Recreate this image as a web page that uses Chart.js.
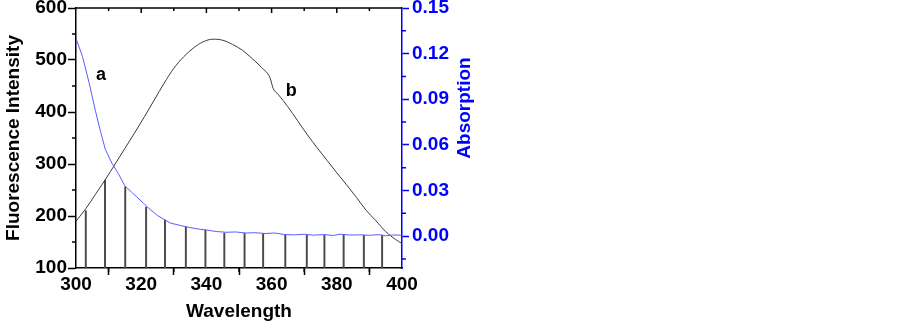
<!DOCTYPE html>
<html>
<head>
<meta charset="utf-8">
<title>Fluorescence / Absorption</title>
<script src="https://cdn.jsdelivr.net/npm/chart.js@4.4.1/dist/chart.umd.min.js"></script>
<style>
  html, body { margin: 0; padding: 0; background: #fff; }
  body { width: 903px; height: 327px; overflow: hidden; }
  #wrap { position: relative; width: 490px; height: 327px; }
</style>
</head>
<body>
<div id="wrap"><canvas id="grafica"></canvas></div>
<script>
// ── DATOS ─────────────────────────────────────────────
// curva b: fluorescencia (eje izquierdo)
const fluoWavelength = [300, 303, 306, 309, 312, 315, 318, 321, 324, 327, 330, 333, 336, 339, 342, 345,
                        348, 351, 354, 357, 359.5, 360.5, 362, 365, 368, 371, 374, 377, 380, 383, 386,
                        389, 392, 395, 398, 400];
const fluoIntensity  = [190, 214, 242, 270, 300, 330, 360, 391, 423, 455, 484, 506, 523, 535, 540, 538,
                        530, 519, 503, 485, 466, 445, 434, 410, 383, 356, 331, 307, 283, 260, 236,
                        211, 191, 170, 155, 147];

// curva a: absorción (eje derecho)
const absWavelength = [300, 302, 304, 306, 307.5, 309, 311, 313, 315, 317, 319, 321, 323, 325, 327, 329,
                       331, 334, 337, 340, 343, 346, 349, 352, 355, 358, 361, 364, 367, 370, 373, 376,
                       379, 381, 384, 387, 390, 393, 395, 397, 400];
const absValue      = [0.130, 0.118, 0.101, 0.082, 0.069, 0.057, 0.048, 0.041, 0.033, 0.029, 0.025, 0.021,
                       0.017, 0.0135, 0.011, 0.0085, 0.0075, 0.006, 0.0048, 0.004, 0.003, 0.0025, 0.0027,
                       0.0020, 0.0022, 0.0017, 0.0020, 0.0010, 0.0008, 0.0012, 0.0006, 0.0010, 0.0004,
                       0.0012, 0.0007, 0.0008, 0.0005, 0.0009, 0.0002, 0.0007, 0.0006];

// líneas verticales del área de solapamiento (eje izquierdo)
const hatchWavelength = [303.0, 308.9, 315.1, 321.5, 327.3, 333.7, 339.7, 345.5, 351.7, 357.4, 364.2,
                         370.8, 376.2, 382.1, 388.3, 393.9];
const hatchHeight     = [210, 269, 256, 217, 192, 179, 173, 167, 167, 166, 164, 163, 163, 163, 163, 163];

// etiquetas de curva
const curveLabels = ['a', 'b'];
const curveLabelX = [307.7, 366];
const curveLabelY = [471, 440];

const AZUL = '#0000ff';
const FUENTE = "'Liberation Sans', Arial, sans-serif";

// ── PLUGIN: ticks menores, eje superior, título derecho, etiquetas ──
const decoraciones = {
    id: 'decoraciones',
    afterDraw(chart) {
        const ctx = chart.ctx;
        const a = chart.chartArea;
        const x = chart.scales.x, y = chart.scales.y, y1 = chart.scales.y1;
        ctx.save();
        ctx.lineWidth = 1.5;

        // borde superior
        ctx.strokeStyle = '#000';
        ctx.beginPath();
        ctx.moveTo(a.left, a.top);
        ctx.lineTo(a.right, a.top);
        ctx.stroke();

        ctx.beginPath();
        for (let v = 310; v < 400; v += 10) {
            const px = x.getPixelForValue(v);
            const len = (v % 20 === 0) ? 5 : 3;
            // superior, hacia dentro
            ctx.moveTo(px, a.top);
            ctx.lineTo(px, a.top + len);
            // inferior, menores hacia fuera
            if (v % 20 !== 0) {
                ctx.moveTo(px, a.bottom);
                ctx.lineTo(px, a.bottom + 4);
            }
        }
        for (let v = 150; v < 600; v += 100) {
            const py = y.getPixelForValue(v);
            ctx.moveTo(a.left - 4, py);
            ctx.lineTo(a.left, py);
        }
        ctx.stroke();

        ctx.strokeStyle = AZUL;
        ctx.beginPath();
        [-0.015, 0.015, 0.045, 0.075, 0.105, 0.135].forEach(v => {
            const py = y1.getPixelForValue(v);
            ctx.moveTo(a.right, py);
            ctx.lineTo(a.right + 4, py);
        });
        ctx.stroke();

        // título del eje derecho (de abajo hacia arriba)
        ctx.fillStyle = AZUL;
        ctx.font = 'bold 19px ' + FUENTE;
        ctx.textAlign = 'center';
        ctx.textBaseline = 'middle';
        ctx.translate(y1.right - 25, a.top + 100);
        ctx.rotate(-Math.PI / 2);
        ctx.fillText('Absorption', 0, 0);
        ctx.restore();

        // etiquetas a / b
        ctx.save();
        ctx.fillStyle = '#000';
        ctx.font = 'bold 18px ' + FUENTE;
        ctx.textAlign = 'center';
        ctx.textBaseline = 'middle';
        curveLabels.forEach((t, i) => {
            ctx.fillText(t, x.getPixelForValue(curveLabelX[i]), y.getPixelForValue(curveLabelY[i]));
        });
        ctx.restore();
    }
};

function initGrafica() {
    if (typeof Chart === 'undefined') return setTimeout(initGrafica, 50);

    Chart.defaults.font.family = FUENTE;
    Chart.defaults.font.weight = 'bold';
    Chart.defaults.font.size = 19;
    Chart.defaults.color = '#000';

    const sinPadding = s => { s.paddingTop = 0; s.paddingBottom = 0; s.paddingLeft = 0; s.paddingRight = 0; };

    new Chart(document.getElementById('grafica'), {
        type: 'line',
        data: {
            datasets: [
                {
                    type: 'line',
                    label: 'a',
                    data: absWavelength.map((w, i) => ({ x: w, y: absValue[i] })),
                    yAxisID: 'y1',
                    borderColor: '#5b5bff',
                    borderWidth: 1,
                    pointRadius: 0,
                    tension: 0,
                    order: 1
                },
                {
                    type: 'line',
                    label: 'b',
                    data: fluoWavelength.map((w, i) => ({ x: w, y: fluoIntensity[i] })),
                    yAxisID: 'y',
                    borderColor: '#3a3a3a',
                    borderWidth: 1,
                    pointRadius: 0,
                    cubicInterpolationMode: 'monotone',
                    order: 2
                },
                {
                    type: 'bar',
                    label: 'solapamiento',
                    data: hatchWavelength.map((w, i) => ({ x: w, y: hatchHeight[i] })),
                    yAxisID: 'y',
                    backgroundColor: '#4a4a4a',
                    barThickness: 1.3,
                    order: 3
                }
            ]
        },
        options: {
            responsive: true,
            maintainAspectRatio: false,
            animation: false,
            layout: { padding: { top: 8, left: 0, right: 0, bottom: 0 } },
            plugins: { legend: { display: false }, tooltip: { enabled: false } },
            scales: {
                x: {
                    type: 'linear',
                    min: 300, max: 400,
                    offset: false,
                    ticks: { stepSize: 20, padding: -2, maxRotation: 0, color: '#000' },
                    grid: { drawOnChartArea: false, tickLength: 7, tickWidth: 1.5, tickColor: '#000' },
                    border: { color: '#000', width: 1.5 },
                    title: { display: true, text: 'Wavelength', color: '#000',
                             font: { size: 19, weight: 'bold' }, padding: { top: 4, bottom: 4 } },
                    afterFit: s => { s.height = 59; sinPadding(s); }
                },
                y: {
                    type: 'linear',
                    position: 'left',
                    min: 100, max: 600,
                    ticks: { stepSize: 100, padding: 1, color: '#000' },
                    grid: { drawOnChartArea: false, tickLength: 8, tickWidth: 1.5, tickColor: '#000' },
                    border: { color: '#000', width: 1.5 },
                    title: { display: true, text: 'Fluorescence Intensity', color: '#000',
                             font: { size: 19, weight: 'bold' }, padding: { top: 2, bottom: 0 } },
                    afterFit: s => { s.width = 76; sinPadding(s); }
                },
                y1: {
                    type: 'linear',
                    position: 'right',
                    min: -0.021, max: 0.15,
                    ticks: { stepSize: 0.03, includeBounds: false, padding: 3, color: AZUL,
                             callback: v => v.toFixed(2) },
                    grid: { drawOnChartArea: false, tickLength: 7, tickWidth: 1.5, tickColor: AZUL },
                    border: { color: AZUL, width: 1.5 },
                    afterFit: s => { s.width = 88; sinPadding(s); }
                }
            }
        },
        plugins: [decoraciones]
    });
}

window.addEventListener('load', initGrafica);
</script>
</body>
</html>
